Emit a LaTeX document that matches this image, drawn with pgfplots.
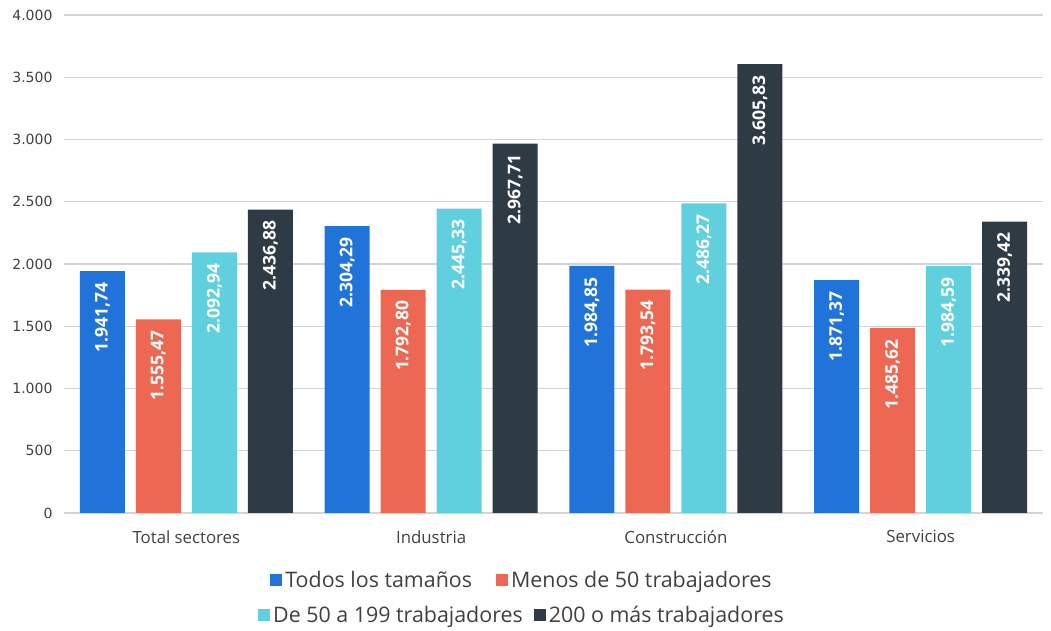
\documentclass[border=0pt]{standalone}
\usepackage{pgfplots}
\pgfplotsset{compat=1.18}
\usepackage{fontspec}
\setmainfont{Open Sans}
\newfontfamily\tickfont{DejaVu Sans}
\definecolor{cBlue}{HTML}{2073D8}
\definecolor{cRed}{HTML}{EC6853}
\definecolor{cCyan}{HTML}{60D0DF}
\definecolor{cDark}{HTML}{2E3A44}
\definecolor{cGrid}{HTML}{D4D4D4}
\definecolor{cText}{HTML}{404040}
\pgfplotsset{
  sqlegend/.style={legend image code/.code={\fill[##1, draw=none] (0pt,-6pt) rectangle (12pt,6pt);}},
}
\begin{document}
\begin{tikzpicture}
\path[use as bounding box] (0,0) rectangle (1051pt,631pt);
\begin{axis}[
  at={(64pt,118pt)}, anchor=south west,
  scale only axis, width=979pt, height=498pt,
  xmin=-0.5, xmax=3.5, ymin=0, ymax=4000,
  ytick={0,500,...,4000},
  xtick={0,1,2,3},
  xticklabels={Total sectores,Industria,Construcción,Servicios},
  ymajorgrids, grid style={cGrid, line width=1.2pt},
  axis x line*=bottom, axis y line*=left,
  y axis line style={draw=none},
  x axis line style={cGrid, line width=1.2pt, -},
  major tick length=0pt,
  tick style={draw=none},
  yticklabel style={font=\tickfont\fontsize{14}{16}\selectfont, text=cText, xshift=-8pt, /pgf/number format/.cd, 1000 sep={.}, assume math mode=true},
  xticklabel style={font=\fontsize{16.8}{19}\selectfont, text=cText, yshift=-14pt},
  ybar, bar width=45pt,
  every axis plot/.append style={draw=none},
  nodes near coords={\pgfmathprintnumber[fixed,fixed zerofill,precision=2,use comma,1000 sep={.},assume math mode=true]{\pgfplotspointmeta}},
  every node near coord/.append style={rotate=90, anchor=east, inner xsep=11pt, inner ysep=0pt, text=white, font=\fontsize{17.5}{19}\selectfont\bfseries},
  sqlegend,
  legend columns=-1,
  legend style={draw=none, fill=none, at={(0.4683,-0.1345)}, anchor=center, font=\fontsize{21.4}{24}\selectfont, text=cText,
    /tikz/every even column/.append style={column sep=21pt},
    /tikz/every odd column/.append style={column sep=0pt}, inner sep=0pt, nodes={inner xsep=3pt}},
  legend entries={Todos los tamaños, Menos de 50 trabajadores},
]
\addplot[fill=cBlue, bar shift=-84pt] coordinates {(0,1941.74) (1,2304.29) (2,1984.85) (3,1871.37)};
\addplot[fill=cRed, bar shift=-28pt] coordinates {(0,1555.47) (1,1792.80) (2,1793.54) (3,1485.62)};
\addplot[fill=cCyan, bar shift=28pt] coordinates {(0,2092.94) (1,2445.33) (2,2486.27) (3,1984.59)};
\addplot[fill=cDark, bar shift=84pt] coordinates {(0,2436.88) (1,2967.71) (2,3605.83) (3,2339.42)};
\end{axis}
\begin{axis}[
  at={(64pt,118pt)}, anchor=south west,
  scale only axis, width=979pt, height=498pt,
  xmin=0, xmax=1, ymin=0, ymax=1, hide axis,
  sqlegend,
  legend columns=-1,
  legend style={draw=none, fill=none, at={(0.4683,-0.205)}, anchor=center, font=\fontsize{21.4}{24}\selectfont, text=cText,
    /tikz/every even column/.append style={column sep=8pt},
    /tikz/every odd column/.append style={column sep=0pt}, inner sep=0pt, nodes={inner xsep=3pt}},
]
\addlegendimage{fill=cCyan}
\addlegendentry{De 50 a 199 trabajadores}
\addlegendimage{fill=cDark}
\addlegendentry{200 o más trabajadores}
\end{axis}
\end{tikzpicture}
\end{document}
